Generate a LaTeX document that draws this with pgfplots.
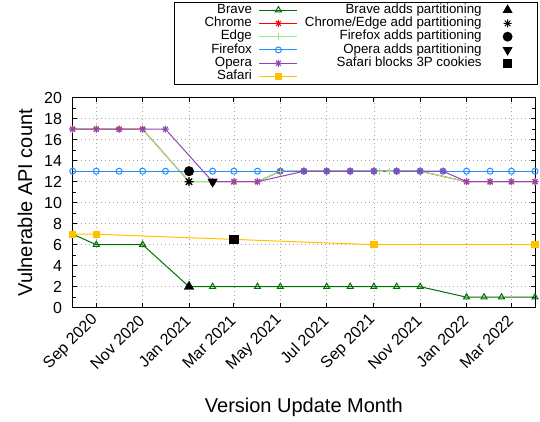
\documentclass[border=0pt]{standalone}
\usepackage{fontspec}
\setmainfont{Liberation Sans}
\usepackage{pgfplots}
\pgfplotsset{compat=1.18}
\definecolor{brave}{RGB}{0,110,0}
\definecolor{chrome}{RGB}{255,0,0}
\definecolor{edge}{RGB}{144,238,144}
\definecolor{firefox}{RGB}{30,144,255}
\definecolor{opera}{RGB}{145,70,180}
\definecolor{safari}{RGB}{255,192,0}
\pgfdeclareplotmark{plusx}{%
 \pgfpathmoveto{\pgfqpoint{-\pgfplotmarksize}{0pt}}\pgfpathlineto{\pgfqpoint{\pgfplotmarksize}{0pt}}%
 \pgfpathmoveto{\pgfqpoint{0pt}{-\pgfplotmarksize}}\pgfpathlineto{\pgfqpoint{0pt}{\pgfplotmarksize}}%
 \pgfpathmoveto{\pgfqpoint{-.7071\pgfplotmarksize}{-.7071\pgfplotmarksize}}\pgfpathlineto{\pgfqpoint{.7071\pgfplotmarksize}{.7071\pgfplotmarksize}}%
 \pgfpathmoveto{\pgfqpoint{-.7071\pgfplotmarksize}{.7071\pgfplotmarksize}}\pgfpathlineto{\pgfqpoint{.7071\pgfplotmarksize}{-.7071\pgfplotmarksize}}%
 \pgfusepathqstroke}
\pgfplotsset{myimg/.style={legend image code/.code={\path[draw=none,fill=none] (0pt,0pt) (38pt,0pt);\draw[mark repeat=2,mark phase=2,##1] plot coordinates {(0pt,0pt) (19pt,0pt) (38pt,0pt)};}}}
\begin{document}
\begin{tikzpicture}
\begin{axis}[
 at={(0,0)}, anchor=south west,
 width=462.3pt, height=210pt, scale only axis,
 xmin=-31, xmax=577, ymin=0, ymax=20,
 xtick={0,61,122,181,242,303,365,426,487,546},
 xticklabels={Sep 2020,Nov 2020,Jan 2021,Mar 2021,May 2021,Jul 2021,Sep 2021,Nov 2021,Jan 2022,Mar 2022},
 ytick={0,2,...,20},
 minor ytick={1,3,...,19},
 tick align=inside,
 major tick length=4.5pt, minor tick length=3pt,
 grid=major,
 major grid style={black!35, dash pattern=on 1.2pt off 2.8pt, line width=0.6pt},
 axis line style={line width=1pt},
 every tick/.style={black, line width=0.8pt},
 tick label style={font=\fontsize{16}{16}\selectfont},
 /pgf/number format/assume math mode=true,
 yticklabel style={inner xsep=0pt, xshift=-10.5pt},
 xticklabel style={xshift=-1pt, yshift=-10pt, rotate=45, anchor=east, inner sep=0pt},
 xlabel={Version Update Month}, ylabel={Vulnerable API count},
 label style={font=\fontsize{20}{20}\selectfont},
 xlabel style={at={(axis description cs:0.5,-0.501)}, anchor=base},
 ylabel style={at={(axis description cs:-0.088,0.5)}, anchor=base},
 legend columns=2,
 legend plot pos=right,
 legend cell align=right,
 legend style={at={(1.0065,1.4557)}, anchor=north east, draw=black, line width=0.8pt,
   font=\fontsize{13.3}{13.3}\selectfont, inner xsep=11pt, inner ysep=1pt,
   column sep=7pt, row sep=0pt,
   nodes={inner xsep=0pt, inner ysep=0.4pt, text height=9.5pt, text depth=3pt}},
]
% Brave
\addplot[forget plot, brave, line width=1pt, mark=triangle, mark size=3.5pt, mark options={fill=white}] coordinates {
(-31,7)(0,6)(61,6)(122,2)(153,2)(212,2)(242,2)(303,2)(334,2)(365,2)(395,2)(426,2)(487,1)(510,1)(533,1)(577,1)};
% Chrome
\addplot[forget plot, chrome, line width=1pt, mark=plusx, mark size=3.5pt] coordinates {
(-31,17)(0,17)(30,17)(61,17)(122,12)(153,12)(181,12)(212,12)(242,13)(273,13)(303,13)(334,13)(365,13)(395,13)(426,13)(487,12)(518,12)(546,12)(577,12)};
% Edge
\addplot[forget plot, edge, line width=1pt, mark=+, mark size=3.5pt] coordinates {
(-31,17)(0,17)(61,17)(122,12)(181,12)(212,12)(242,13)(303,13)(365,13)(373,13)(386,13)(426,13)(487,12)(518,12)(546,12)(577,12)};
% Firefox
\addplot[forget plot, firefox, line width=1pt, mark=o, mark size=3pt] coordinates {
(-31,13)(0,13)(30,13)(61,13)(91,13)(122,13)(153,13)(181,13)(212,13)(242,13)(273,13)(303,13)(334,13)(365,13)(395,13)(426,13)(456,13)(487,13)(518,13)(546,13)(577,13)};
% Opera
\addplot[forget plot, opera, line width=1pt, mark=plusx, mark size=3.5pt] coordinates {
(-31,17)(0,17)(30,17)(61,17)(91,17)(153,12)(181,12)(212,12)(273,13)(303,13)(334,13)(365,13)(395,13)(426,13)(456,13)(487,12)(518,12)(546,12)(577,12)};
% Safari
\addplot[forget plot, safari, line width=1pt, mark=square*, mark size=3.2pt] coordinates {
(-31,7)(0,7)(365,6)(577,6)};
% annotations
\addplot[forget plot, only marks, black, mark=triangle*, mark size=5.5pt] coordinates {(122,2)};
\addplot[forget plot, only marks, black, mark=plusx, mark size=4.5pt, line width=1.2pt] coordinates {(122,12)};
\addplot[forget plot, only marks, black, mark=*, mark size=4.8pt] coordinates {(122,13)};
\addplot[forget plot, only marks, black, mark=triangle*, mark size=5.5pt, mark options={rotate=180}] coordinates {(153,12)};
\addplot[forget plot, only marks, black, mark=square*, mark size=4.2pt] coordinates {(181,6.5)};
% legend
\addlegendimage{brave, line width=1pt, mark=triangle, mark size=3.5pt, mark options={fill=white}, myimg}
\addlegendentry{\makebox[67pt][r]{Brave}}
\addlegendimage{only marks, black, mark=triangle*, mark size=5pt, myimg}
\addlegendentry{Brave adds partitioning}
\addlegendimage{chrome, line width=1pt, mark=plusx, mark size=3.5pt, myimg}
\addlegendentry{Chrome}
\addlegendimage{only marks, black, line width=1pt, mark=plusx, mark size=4pt, myimg}
\addlegendentry{Chrome/Edge add partitioning}
\addlegendimage{edge, line width=1pt, mark=+, mark size=3.5pt, myimg}
\addlegendentry{Edge}
\addlegendimage{only marks, black, mark=*, mark size=4.5pt, myimg}
\addlegendentry{Firefox adds partitioning}
\addlegendimage{firefox, line width=1pt, mark=o, mark size=3pt, myimg}
\addlegendentry{Firefox}
\addlegendimage{only marks, black, mark=triangle*, mark size=5pt, mark options={rotate=180}, myimg}
\addlegendentry{Opera adds partitioning}
\addlegendimage{opera, line width=1pt, mark=plusx, mark size=3.5pt, myimg}
\addlegendentry{Opera}
\addlegendimage{only marks, black, mark=square*, mark size=4pt, myimg}
\addlegendentry{Safari blocks 3P cookies}
\addlegendimage{safari, line width=1pt, mark=square*, mark size=3.2pt, myimg}
\addlegendentry{Safari}
\addlegendimage{empty legend}
\addlegendentry{}
\end{axis}
\pgfresetboundingbox
\useasboundingbox (-72.7pt,-113.3pt) rectangle (467.3pt,307.7pt);
\end{tikzpicture}
\end{document}
